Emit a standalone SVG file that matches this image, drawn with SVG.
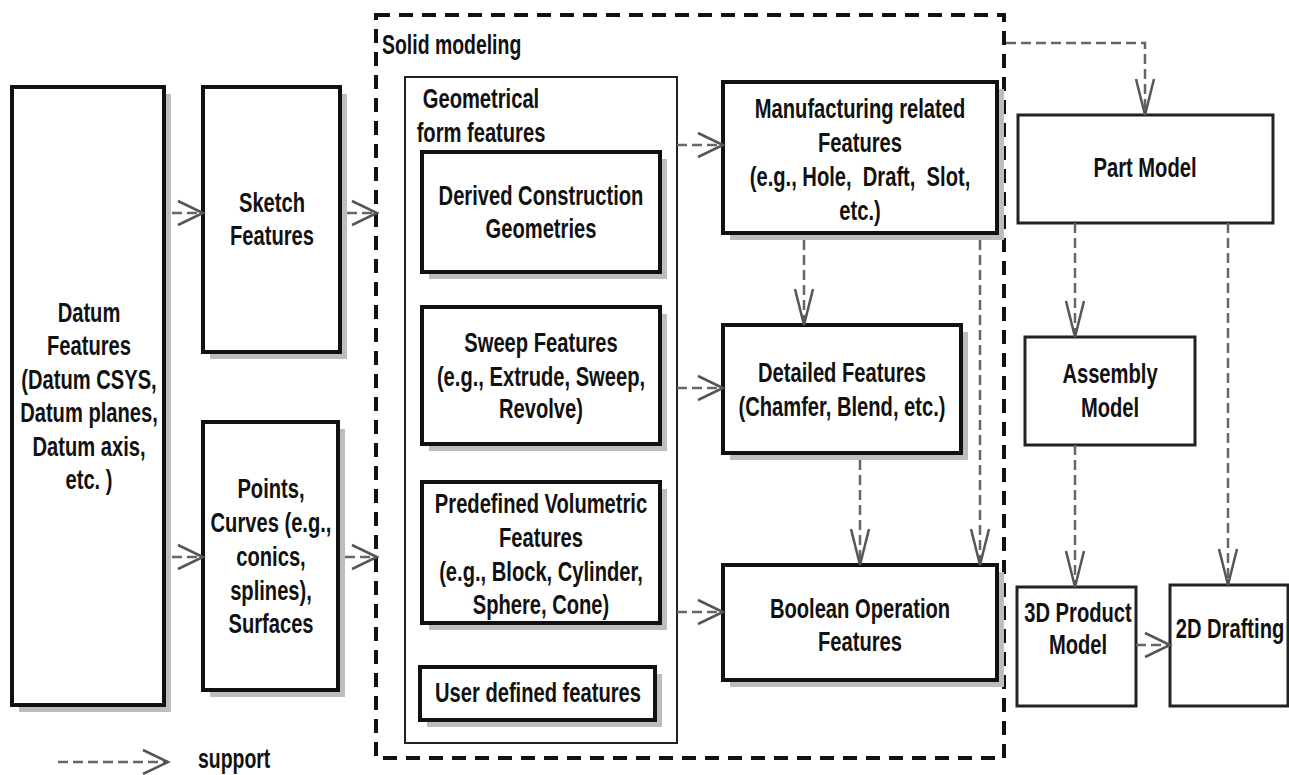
<svg xmlns="http://www.w3.org/2000/svg" width="1289" height="775" viewBox="0 0 1289 775">
<style>
.box{fill:#fff;stroke:#111;stroke-width:4}
.box3{fill:#fff;stroke:#222;stroke-width:3}
.thin{fill:#fff;stroke:#222;stroke-width:2}
.sh{fill:#bdbdbd}
.t{font-family:"Liberation Sans",Arial,sans-serif;font-weight:bold;font-size:28px;fill:#111;text-anchor:middle}
.tl{font-family:"Liberation Sans",Arial,sans-serif;font-weight:bold;font-size:27px;fill:#111;text-anchor:start}
.c{fill:none;stroke:#666;stroke-width:2.5;stroke-dasharray:10 5}
.ch{marker-end:url(#ah)}
.cv{marker-end:url(#av)}
.frame{fill:none;stroke:#111;stroke-width:4;stroke-dasharray:14 9}
</style>
<defs>
<marker id="ah" markerUnits="userSpaceOnUse" markerWidth="30" markerHeight="30" refX="26" refY="13" orient="auto" overflow="visible">
<path d="M1,1 L26,13 L1,25" fill="none" stroke="#555" stroke-width="2.5"/>
</marker>
<marker id="av" markerUnits="userSpaceOnUse" markerWidth="40" markerHeight="24" refX="36" refY="10" orient="auto" overflow="visible">
<path d="M0,1 L36,10 L0,19" fill="none" stroke="#555" stroke-width="2.5"/>
</marker>
</defs>

<g id="solid-modeling">
<rect class="frame" x="376" y="15" width="628" height="743"/>
<text class="tl" transform="translate(382,54) scale(0.72,1)" x="0" y="0">Solid modeling</text>
</g>

<g id="datum">
<rect class="sh" x="19" y="94" width="152" height="618"/>
<rect class="box" x="12" y="87" width="152" height="618"/>
<text class="t" transform="translate(89,322) scale(0.72,1)"><tspan x="0" y="0">Datum</tspan><tspan x="0" y="33.5">Features</tspan><tspan x="0" y="67">(Datum CSYS,</tspan><tspan x="0" y="100.5">Datum planes,</tspan><tspan x="0" y="134">Datum axis,</tspan><tspan x="0" y="167.5">etc. )</tspan></text>
</g>

<g id="sketch">
<rect class="sh" x="210" y="94" width="137" height="265"/>
<rect class="box" x="203" y="87" width="137" height="265"/>
<text class="t" transform="translate(272,212) scale(0.72,1)"><tspan x="0" y="0">Sketch</tspan><tspan x="0" y="33">Features</tspan></text>
</g>

<g id="points">
<rect class="sh" x="210" y="429" width="135" height="268"/>
<rect class="box" x="203" y="422" width="135" height="268"/>
<text class="t" transform="translate(271,498) scale(0.72,1)"><tspan x="0" y="0">Points,</tspan><tspan x="0" y="34">Curves (e.g.,</tspan><tspan x="0" y="68">conics,</tspan><tspan x="0" y="102">splines),</tspan><tspan x="0" y="135">Surfaces</tspan></text>
</g>

<g id="geometrical">
<rect class="thin" x="405" y="77" width="272" height="666"/>
<text class="t" transform="translate(481,108) scale(0.72,1)"><tspan x="0" y="0">Geometrical</tspan><tspan x="0" y="34">form features</tspan></text>
</g>

<g id="derived">
<rect class="sh" x="429" y="159" width="238" height="120"/>
<rect class="box" x="422" y="152" width="238" height="120"/>
<text class="t" transform="translate(541,205) scale(0.72,1)"><tspan x="0" y="0">Derived Construction</tspan><tspan x="0" y="33">Geometries</tspan></text>
</g>

<g id="sweep">
<rect class="sh" x="429" y="314" width="238" height="137"/>
<rect class="box" x="422" y="307" width="238" height="137"/>
<text class="t" transform="translate(541,352) scale(0.72,1)"><tspan x="0" y="0">Sweep Features</tspan><tspan x="0" y="34">(e.g., Extrude, Sweep,</tspan><tspan x="0" y="66">Revolve)</tspan></text>
</g>

<g id="predefined">
<rect class="sh" x="429" y="489" width="238" height="141"/>
<rect class="box" x="422" y="482" width="238" height="141"/>
<text class="t" transform="translate(541,513) scale(0.72,1)"><tspan x="0" y="0">Predefined Volumetric</tspan><tspan x="0" y="34">Features</tspan><tspan x="0" y="68">(e.g., Block, Cylinder,</tspan><tspan x="0" y="101">Sphere, Cone)</tspan></text>
</g>

<g id="user-defined">
<rect class="sh" x="427" y="674" width="235" height="53"/>
<rect class="box" x="420" y="667" width="235" height="53"/>
<text class="t" transform="translate(538,702) scale(0.72,1)" x="0" y="0">User defined features</text>
</g>

<g id="manufacturing">
<rect class="sh" x="730" y="89" width="274" height="151"/>
<rect class="box" x="723" y="82" width="274" height="151"/>
<text class="t" transform="translate(860,118) scale(0.72,1)"><tspan x="0" y="0">Manufacturing related</tspan><tspan x="0" y="34">Features</tspan><tspan x="0" y="68">(e.g., Hole,&#160; Draft,&#160; Slot,</tspan><tspan x="0" y="102">etc.)</tspan></text>
</g>

<g id="detailed">
<rect class="sh" x="730" y="332" width="238" height="128"/>
<rect class="box" x="723" y="325" width="238" height="128"/>
<text class="t" transform="translate(842,382) scale(0.72,1)"><tspan x="0" y="0">Detailed Features</tspan><tspan x="0" y="34">(Chamfer, Blend, etc.)</tspan></text>
</g>

<g id="boolean">
<rect class="sh" x="730" y="572" width="274" height="115"/>
<rect class="box" x="723" y="565" width="274" height="115"/>
<text class="t" transform="translate(860,618) scale(0.72,1)"><tspan x="0" y="0">Boolean Operation</tspan><tspan x="0" y="33">Features</tspan></text>
</g>

<g id="part-model">
<rect class="box3" x="1018" y="115" width="255" height="108"/>
<text class="t" transform="translate(1145,177) scale(0.72,1)" x="0" y="0">Part Model</text>
</g>

<g id="assembly-model">
<rect class="box3" x="1025" y="337" width="170" height="108"/>
<text class="t" transform="translate(1110,383) scale(0.72,1)"><tspan x="0" y="0">Assembly</tspan><tspan x="0" y="34">Model</tspan></text>
</g>

<g id="product-model">
<rect class="box3" x="1017" y="587" width="119" height="119"/>
<text class="t" transform="translate(1078,622) scale(0.72,1)"><tspan x="0" y="0">3D Product</tspan><tspan x="0" y="32">Model</tspan></text>
</g>

<g id="drafting">
<rect class="box3" x="1170" y="585" width="118" height="121"/>
<text class="t" transform="translate(1230,638) scale(0.72,1)" x="0" y="0">2D Drafting</text>
</g>

<g id="connectors">
<path class="c ch" d="M172,213 L203,213"/>
<path class="c ch" d="M172,557 L203,557"/>
<path class="c ch" d="M347,213 L377,213"/>
<path class="c ch" d="M345,557 L377,557"/>
<path class="c ch" d="M677,145 L723,145"/>
<path class="c ch" d="M677,388 L723,388"/>
<path class="c ch" d="M677,612 L723,612"/>
<path class="c cv" d="M804,240 L804,325"/>
<path class="c cv" d="M860,460 L860,565"/>
<path class="c cv" d="M980,240 L980,565"/>
<path class="c cv" d="M1006,43 L1145,43 L1145,115"/>
<path class="c cv" d="M1075,223 L1075,337"/>
<path class="c cv" d="M1228,223 L1228,585"/>
<path class="c cv" d="M1075,445 L1075,587"/>
<path class="c ch" d="M1136,645 L1170,645"/>
</g>

<g id="legend">
<path class="c ch" d="M58,762 L168,762"/>
<text class="tl" transform="translate(198,768) scale(0.72,1)" x="0" y="0">support</text>
</g>
</svg>
